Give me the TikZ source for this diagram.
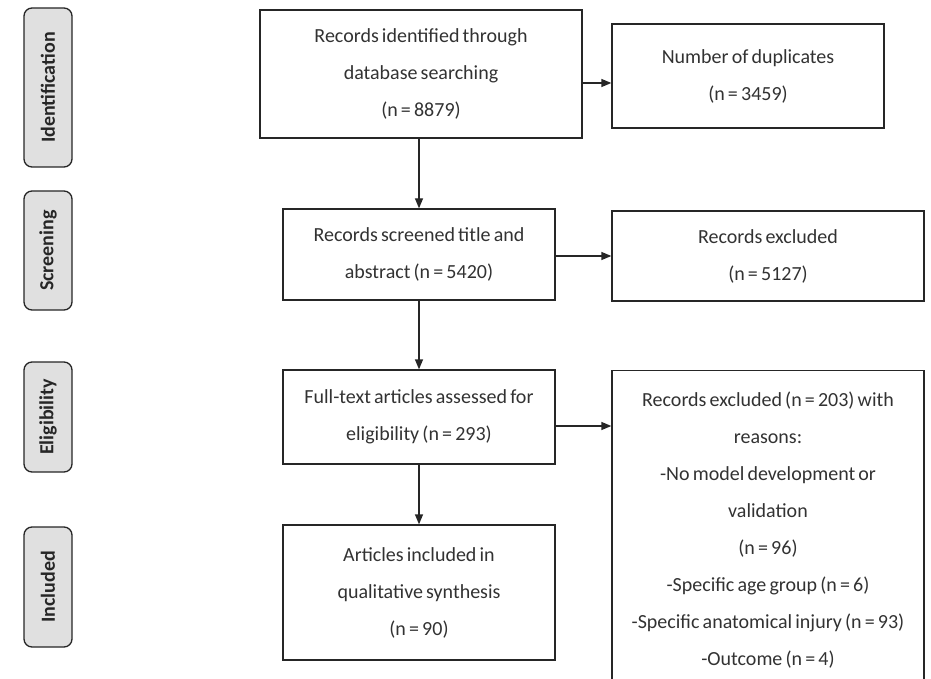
\documentclass[tikz,border=0pt]{standalone}
\usepackage{fontspec}
\setmainfont{Carlito}[WordSpace=0.7]
\usetikzlibrary{arrows.meta}

\definecolor{boxtext}{RGB}{50,50,50}
\definecolor{stagefill}{RGB}{224,224,224}

\begin{document}
\begin{tikzpicture}[x=1pt,y=-1pt]
\tikzstyle{every node}=[font=\fontsize{20}{37}\selectfont]
\tikzstyle{flowbox}=[draw=black!85, line width=1.3pt, text=boxtext, align=center, inner sep=0pt]
\tikzstyle{stage}=[draw=black!85, line width=1.3pt, fill=stagefill, rounded corners=8pt, rotate=90, font=\fontsize{20}{24}\selectfont\bfseries, text=black!85, inner sep=0pt, minimum height=48pt]
\tikzstyle{flow}=[draw=black!85, line width=1.3pt, -{Triangle[length=10pt,width=8pt]}]
\useasboundingbox (0,0) rectangle (931,679);

% stages
\node[stage, minimum width=159pt] (identification) at (48,87.5) {Identification};
\node[stage, minimum width=119pt] (screening) at (48,250.5) {Screening};
\node[stage, minimum width=110pt] (eligibility) at (48,417) {Eligibility};
\node[stage, minimum width=120pt] (included-stage) at (48,587) {Included};

% boxes
\node[flowbox, minimum width=322pt, minimum height=128pt] (records) at (421,74) {Records identified through\\database searching\\(n = 8879)};
\node[flowbox, minimum width=272pt, minimum height=104pt] (duplicates) at (748,76) {Number of duplicates\\(n = 3459)};
\node[flowbox, minimum width=272pt, minimum height=91pt] (screened) at (419,254.5) {Records screened title and\\abstract (n = 5420)};
\node[flowbox, minimum width=312pt, minimum height=90pt] (excluded) at (768,256) {Records excluded\\(n = 5127)};
\node[flowbox, minimum width=272pt, minimum height=94pt] (fulltext) at (419,417) {Full-text articles assessed for\\eligibility (n = 293)};
\node[flowbox, anchor=north, minimum width=312pt, inner ysep=21pt] (reasons) at (768,370) {Records excluded (n = 203) with\\reasons:\\-No model development or\\validation\\(n = 96)\\-Specific age group (n = 6)\\-Specific anatomical injury (n = 93)\\-Outcome (n = 4)};
\node[flowbox, minimum width=272pt, minimum height=135pt] (included) at (419,592.5) {Articles included in\\qualitative synthesis\\(n = 90)};

% arrows
\draw[flow] ([yshift=-9pt]records.east) coordinate (r-out) -- (r-out -| duplicates.west);
\draw[flow] (records.south -| screened) -- (screened.north);
\draw[flow] (screened.east |- excluded) -- (excluded.west);
\draw[flow] (screened.south) -- (fulltext.north);
\draw[flow] ([yshift=-9pt]fulltext.east) coordinate (f-out) -- (f-out -| reasons.west);
\draw[flow] (fulltext.south) -- (included.north);

\end{tikzpicture}
\end{document}
